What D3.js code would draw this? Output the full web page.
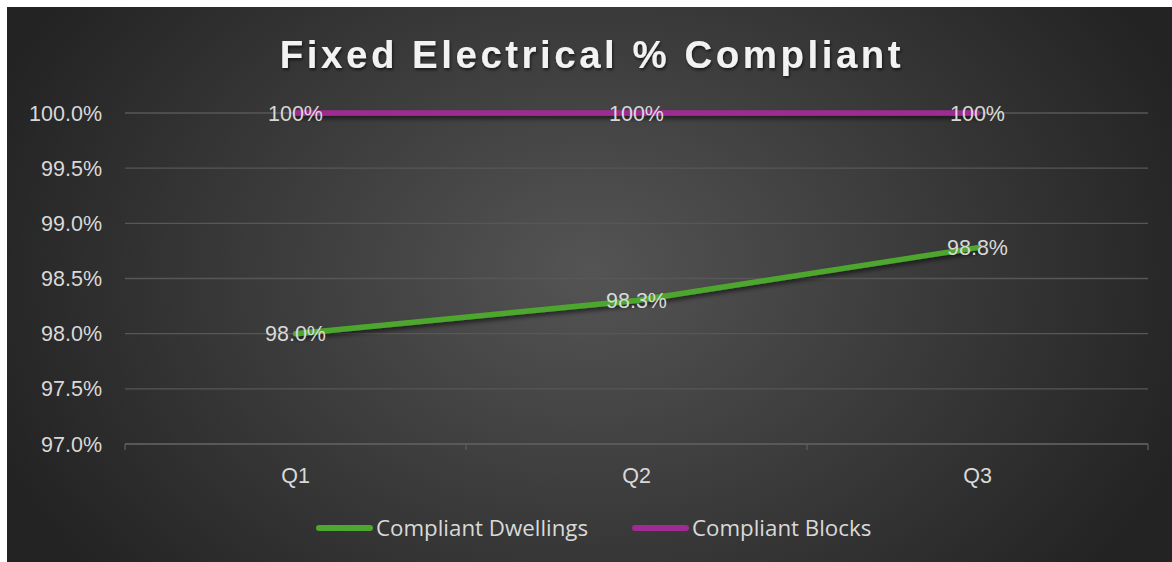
<!DOCTYPE html>
<html><head><meta charset="utf-8">
<script src="https://cdn.jsdelivr.net/npm/d3@7"></script>
<style>
html,body{margin:0;padding:0;background:#fff;}
svg{display:block;}
</style></head>
<body>
<script>
const categories = ["Q1","Q2","Q3"];
const dwellings = [98.0, 98.3, 98.78];
const blocks = [100, 100, 100];
const dwellLabels = ["98.0%","98.3%","98.8%"];
const blockLabels = ["100%","100%","100%"];
const yTicks = [97.0, 97.5, 98.0, 98.5, 99.0, 99.5, 100.0];
const seriesNames = ["Compliant Dwellings","Compliant Blocks"];
const seriesColors = ["#4ea72e","#a02b93"];

(function(){
const W = 1172, H = 562;
const FS = 21.5;
const svg = d3.select("body").append("svg").attr("width", W).attr("height", H);
const defs = svg.append("defs");
const rg = defs.append("radialGradient").attr("id","bg")
  .attr("gradientUnits","userSpaceOnUse").attr("cx",590).attr("cy",270).attr("r",640)
  .attr("gradientTransform","translate(590,270) scale(1,0.75) translate(-590,-270)");
rg.append("stop").attr("offset","0").attr("stop-color","#545454");
rg.append("stop").attr("offset","1").attr("stop-color","#232323");
const sh = defs.append("filter").attr("id","shadow").attr("filterUnits","userSpaceOnUse")
  .attr("x",0).attr("y",0).attr("width",W).attr("height",H);
sh.append("feDropShadow").attr("dx",1).attr("dy",3).attr("stdDeviation",2).attr("flood-color","#000").attr("flood-opacity",0.55);
const tsh = defs.append("filter").attr("id","tshadow");
tsh.append("feDropShadow").attr("dx",1).attr("dy",2).attr("stdDeviation",1.5).attr("flood-color","#000").attr("flood-opacity",0.6);

svg.append("rect").attr("x",7).attr("y",7).attr("width",W-7).attr("height",H-7).attr("fill","url(#bg)");

const pLeft = 125, pRight = 1148, pTop = 113, pBottom = 444;
const x = d3.scaleBand().domain(categories).range([pLeft, pRight]);
const y = d3.scaleLinear().domain([97, 100]).range([pBottom, pTop]);
const cx = c => x(c) + x.bandwidth()/2;

// gridlines
svg.append("g").selectAll("line").data(yTicks).join("line")
  .attr("x1", pLeft).attr("x2", pRight)
  .attr("y1", d => y(d)).attr("y2", d => y(d))
  .attr("stroke", "#575757").attr("stroke-width", 1.3);

// y labels
svg.append("g").selectAll("text").data(yTicks).join("text")
  .attr("x", 102).attr("y", d => y(d)).attr("dy","0.35em")
  .attr("text-anchor","end").attr("fill","#d9d9d9")
  .attr("font-family","Liberation Sans, Arial, sans-serif").attr("font-size",FS)
  .text(d => d.toFixed(1) + "%");

// x axis
const gx = svg.append("g").attr("transform",`translate(0,${pBottom})`);
gx.append("line").attr("x1",pLeft).attr("x2",pRight).attr("stroke","#5c5c5c").attr("stroke-width",1.3);
const edges = categories.map(c => x(c)).concat([pRight]);
gx.selectAll("line.tk").data(edges).join("line").attr("class","tk")
  .attr("x1", d=>d).attr("x2", d=>d).attr("y1",0).attr("y2",6)
  .attr("stroke","#5c5c5c").attr("stroke-width",1.3);
gx.selectAll("text.cat").data(categories).join("text").attr("class","cat")
  .attr("x", d => cx(d)).attr("y", 39)
  .attr("text-anchor","middle").attr("fill","#d9d9d9")
  .attr("font-family","Liberation Sans, Arial, sans-serif").attr("font-size",FS)
  .text(d => d);

// lines
const line = d3.line().x((d,i) => cx(categories[i])).y(d => y(d));
[dwellings, blocks].forEach((s, k) => {
  svg.append("path").datum(s).attr("d", line).attr("fill","none")
    .attr("stroke", seriesColors[k]).attr("stroke-width",5.5)
    .attr("stroke-linecap","round").attr("stroke-linejoin","round")
    .attr("filter","url(#shadow)");
});

// data labels
[[dwellings, dwellLabels],[blocks, blockLabels]].forEach(([s, lab]) => {
  svg.append("g").selectAll("text").data(s).join("text")
    .attr("x", (d,i) => cx(categories[i]))
    .attr("y", d => y(d)).attr("dy","0.35em")
    .attr("text-anchor","middle").attr("fill","#d9d9d9")
    .attr("font-family","Liberation Sans, Arial, sans-serif").attr("font-size",FS)
    .text((d,i) => lab[i]);
});

// title
svg.append("text").attr("x", 592).attr("y", 68).attr("text-anchor","middle")
  .attr("fill","#f2f2f2").attr("font-family","Liberation Sans, Arial, sans-serif")
  .attr("font-weight","bold").attr("font-size",38.5).attr("letter-spacing","3.5px")
  .attr("filter","url(#tshadow)")
  .text("Fixed Electrical % Compliant");

// legend
const legX = [316, 632];
seriesNames.forEach((n, k) => {
  const g = svg.append("g");
  g.append("line").attr("x1", legX[k]+3).attr("x2", legX[k]+54).attr("y1",528).attr("y2",528)
    .attr("stroke", seriesColors[k]).attr("stroke-width",6).attr("stroke-linecap","round");
  g.append("text").attr("x", legX[k]+60).attr("y",528).attr("dy","0.35em")
    .attr("fill","#d9d9d9").attr("font-family","Open Sans, sans-serif").attr("font-size",22.3)
    .text(n);
});
})();
</script>
</body></html>
